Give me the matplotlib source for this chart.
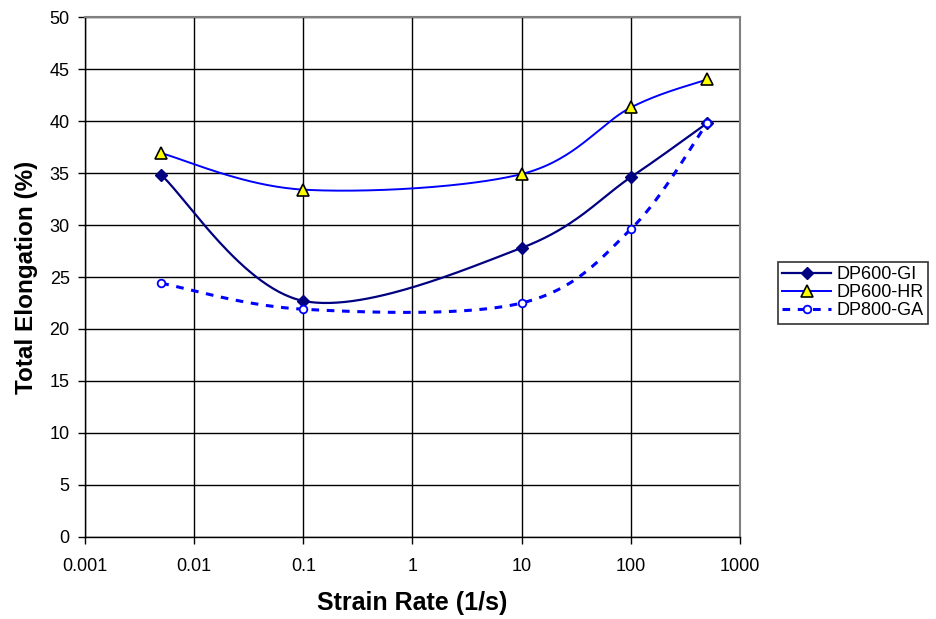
import matplotlib
matplotlib.use("Agg")
import matplotlib.pyplot as plt
import numpy as np

plt.rcParams["font.family"] = ["Liberation Sans", "DejaVu Sans"]

strain_rate = [0.005, 0.1, 10, 100, 500]
dp600_gi = [34.8, 22.7, 27.8, 34.6, 39.8]
dp600_hr = [36.9, 33.4, 34.9, 41.3, 44.0]
dp800_ga = [24.4, 21.9, 22.5, 29.6, 39.8]

x_ticks = [0.001, 0.01, 0.1, 1, 10, 100, 1000]
x_tick_labels = ["0.001", "0.01", "0.1", "1", "10", "100", "1000"]


def smooth(xs, ys, n=60):
    # Excel-like smoothed line: Catmull-Rom bezier in (log x, y) space
    u = np.log10(np.asarray(xs, float))
    v = np.asarray(ys, float)
    pts = np.column_stack([u, v])
    out = []
    for i in range(len(pts) - 1):
        p0 = pts[i - 1] if i > 0 else pts[i]
        p1, p2 = pts[i], pts[i + 1]
        p3 = pts[i + 2] if i + 2 < len(pts) else pts[i + 1]
        c1 = p1 + (p2 - p0) / 6
        c2 = p2 - (p3 - p1) / 6
        t = np.linspace(0, 1, n)[:, None]
        seg = ((1 - t) ** 3 * p1 + 3 * (1 - t) ** 2 * t * c1
               + 3 * (1 - t) * t ** 2 * c2 + t ** 3 * p2)
        out.append(seg if i == 0 else seg[1:])
    seg = np.vstack(out)
    return 10 ** seg[:, 0], seg[:, 1]


fig = plt.figure(figsize=(9.36, 6.19), dpi=100)
ax = fig.add_axes([0.0908, 0.1325, 0.6998, 0.840])

series = [
    ("DP600-GI", dp600_gi, dict(color="#000080", ls="-", lw=1.6),
     dict(marker="D", ms=6, mfc="#000080", mec="#000080")),
    ("DP600-HR", dp600_hr, dict(color="#0000FF", ls="-", lw=1.4),
     dict(marker="^", ms=8, mfc="#FFFF00", mec="black", mew=1.2)),
    ("DP800-GA", dp800_ga, dict(color="#0000FF", ls=(0, (2.5, 2.5)), lw=2.2),
     dict(marker="o", ms=5.5, mfc="white", mec="#0000FF", mew=1.3)),
]

for name, ys, lstyle, mstyle in series:
    sx, sy = smooth(strain_rate, ys)
    ax.plot(sx, sy, zorder=3, **lstyle)
    ax.plot(strain_rate, ys, ls="none", zorder=4, **mstyle)
    ax.plot([], [], label=name, **lstyle, **mstyle)

ax.set_xscale("log")
ax.set_xlim(0.001, 1000)
ax.set_ylim(0, 50)
ax.set_xticks(x_ticks)
ax.set_xticklabels(x_tick_labels)
ax.set_yticks(np.arange(0, 51, 5))
ax.xaxis.set_minor_locator(matplotlib.ticker.NullLocator())
ax.grid(True, color="black", lw=1.0)
ax.set_axisbelow(True)
ax.tick_params(direction="out", length=5, width=1, labelsize=13, pad=10)
ax.tick_params(axis="y", pad=6)

for s in ["top", "right"]:
    ax.spines[s].set_color("#808080")
    ax.spines[s].set_linewidth(1.5)
for s in ["left", "bottom"]:
    ax.spines[s].set_color("black")
    ax.spines[s].set_linewidth(1.0)

ax.set_xlabel("Strain Rate (1/s)", fontsize=18, fontweight="bold", labelpad=12)
ax.set_ylabel("Total Elongation (%)", fontsize=17.5, fontweight="bold", labelpad=8)

leg = fig.legend(loc="upper left", bbox_to_anchor=(0.831, 0.577), fontsize=13,
                 frameon=True, fancybox=False, edgecolor="black", handlelength=2.7,
                 borderpad=0.25, labelspacing=0.05, handletextpad=0.3, borderaxespad=0)
leg.get_frame().set_linewidth(1.2)

fig.savefig("out.png", dpi=100)
